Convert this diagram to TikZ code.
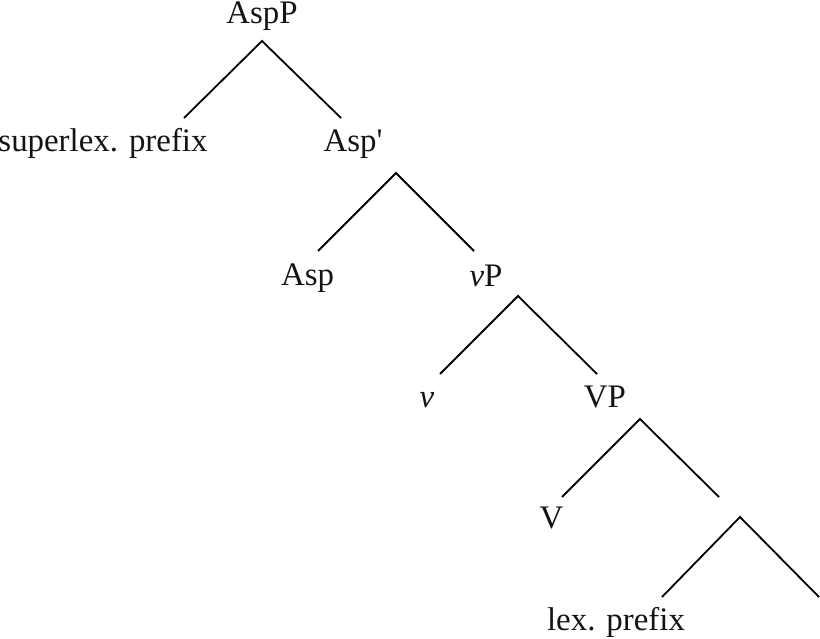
\documentclass[tikz,border=0pt]{standalone}
\usepackage{fontspec}
\setmainfont{Liberation Serif}
\begin{document}
\begin{tikzpicture}[x=1bp,y=-1bp,
  lbl/.style={anchor=base,inner sep=0pt,outer sep=0pt,text=black!92,font=\fontsize{33}{40}\selectfont},
  branch/.style={draw=black,line width=1.8bp}]
\useasboundingbox (0,0) rectangle (820,639);
% labels
\node[lbl] (aspP) at (262,23.5) {AspP};
\node[lbl] (sup) at (103,152) {superlex. prefix};
\node[lbl] (aspbar) at (353,152) {Asp\textquotesingle};
\node[lbl] (asp) at (307.5,285) {Asp};
\node[lbl] (vP) at (486,286) {\textit{v}P};
\node[lbl] (v) at (427,407) {\textit{v}};
\node[lbl] (VP) at (605,407) {VP};
\node[lbl] (V) at (551.5,528) {V};
\node[lbl] (lex) at (616,630) {lex. prefix};
% branch points
\coordinate (aspP-b) at (262,41);
\coordinate (sup-t) at (184,118);
\coordinate (aspbar-t) at (341,118);
\coordinate (aspbar-b) at (396,173);
\coordinate (asp-t) at (318,251);
\coordinate (vP-t) at (474,251);
\coordinate (vP-b) at (518,296);
\coordinate (v-t) at (440,374);
\coordinate (VP-t) at (597,374);
\coordinate (VP-b) at (640,419);
\coordinate (V-t) at (562,497);
\coordinate (X-t) at (719,497);
\coordinate (X-b) at (740,517);
\coordinate (lex-t) at (662,597);
\coordinate (Y-t) at (819,597);
% branches
\draw[branch] (sup-t) -- (aspP-b) -- (aspbar-t);
\draw[branch] (asp-t) -- (aspbar-b) -- (vP-t);
\draw[branch] (v-t) -- (vP-b) -- (VP-t);
\draw[branch] (V-t) -- (VP-b) -- (X-t);
\draw[branch] (lex-t) -- (X-b) -- (Y-t);
\end{tikzpicture}
\end{document}
